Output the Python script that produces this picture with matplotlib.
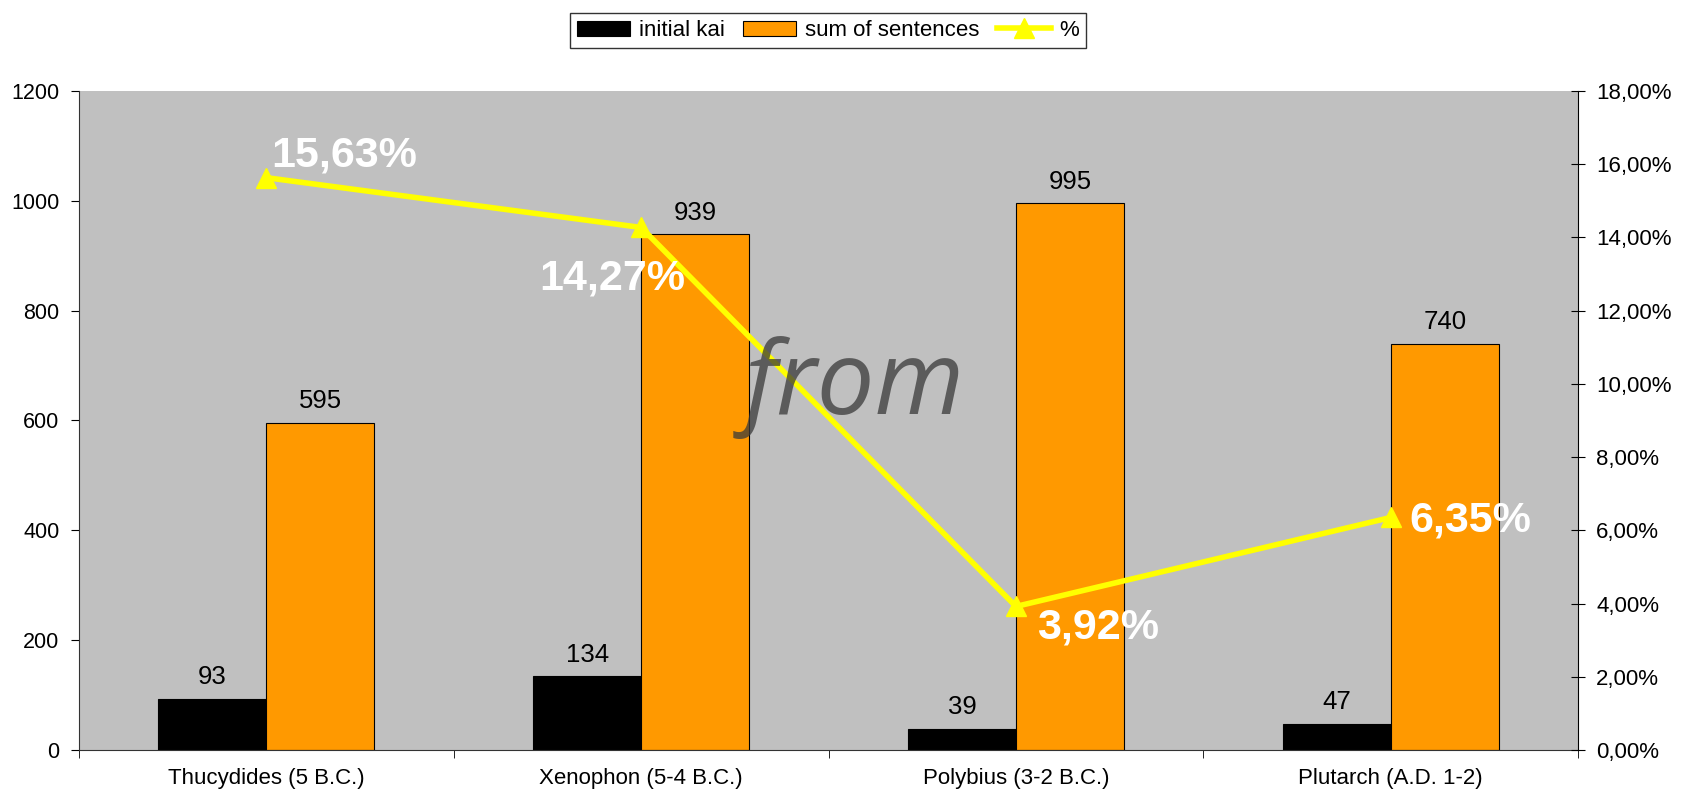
import matplotlib.pyplot as plt
import numpy as np

plt.rcParams['font.family'] = ['Liberation Sans', 'DejaVu Sans']

authors = ['Thucydides (5 B.C.)', 'Xenophon (5-4 B.C.)', 'Polybius (3-2 B.C.)', 'Plutarch (A.D. 1-2)']
initial_kai = [93, 134, 39, 47]
sum_sentences = [595, 939, 995, 740]
percent = [15.63, 14.27, 3.92, 6.35]
pct_labels = ['15,63%', '14,27%', '3,92%', '6,35%']
# label offsets in points (dx, dy) relative to each line point
pct_offsets = [(56, 16), (-21, -37), (59, -15), (57, -2)]

fig = plt.figure(figsize=(16.92, 7.96), dpi=100)
ax = fig.add_axes([0.0467, 0.0578, 0.886, 0.828])
ax.set_facecolor('#c0c0c0')

x = np.arange(len(authors))
w = 0.288
b1 = ax.bar(x - w / 2, initial_kai, w, color='black', edgecolor='black', linewidth=0.8, label='initial kai')
b2 = ax.bar(x + w / 2, sum_sentences, w, color='#ff9900', edgecolor='black', linewidth=0.8, label='sum of sentences')

for bars, vals in [(b1, initial_kai), (b2, sum_sentences)]:
    for r, v in zip(bars, vals):
        ax.annotate(str(v), (r.get_x() + r.get_width() / 2, v), xytext=(0, 7),
                    textcoords='offset points', ha='center', va='bottom', fontsize=18.5)

ax.set_xlim(-0.5, 3.5)
ax.set_ylim(0, 1200)
ax.set_yticks(range(0, 1201, 200))
ax.set_xticks(x)
ax.set_xticklabels(authors, fontsize=16)
ax.tick_params(axis='x', length=0, pad=13)
ax.set_xticks(np.arange(-0.5, 3.6, 1), minor=True)
ax.tick_params(axis='x', which='minor', length=6, direction='out')
ax.tick_params(axis='y', direction='out', length=6, labelsize=15.5, pad=8)
for s in ['top', 'right']:
    ax.spines[s].set_visible(False)
ax.spines['left'].set_color('#333333')
ax.spines['bottom'].set_color('#333333')

ax2 = ax.twinx()
ax2.set_ylim(0, 18)
ax2.set_yticks(range(0, 19, 2))
ax2.set_yticklabels(['%d,00%%' % t for t in range(0, 19, 2)])
ax2.tick_params(axis='y', direction='inout', length=10, labelsize=16, pad=8)
for s in ['top', 'left', 'bottom']:
    ax2.spines[s].set_visible(False)
line, = ax2.plot(x, percent, color='#ffff00', lw=4, marker='^', markersize=14, label='%')

for xi, p, lab, off in zip(x, percent, pct_labels, pct_offsets):
    ax2.annotate(lab, (xi, p), xytext=off, textcoords='offset points', ha='center', va='center',
                 fontsize=31, fontweight='bold', color='white')

ax2.text(1.57, 9.9, 'from', fontsize=74, style='italic', color='#3a3a3a', alpha=0.75,
         ha='center', va='center', family=['Open Sans', 'DejaVu Sans'])

fig.legend(handles=[b1, b2, line], labels=['initial kai', 'sum of sentences', '%'],
           loc='upper center', bbox_to_anchor=(0.4895, 0.997), ncol=3, fontsize=16,
           frameon=True, fancybox=False, edgecolor='black', handlelength=2.4,
           columnspacing=0.8, handletextpad=0.4, borderpad=0.3)

fig.savefig('out.png', dpi=100)
